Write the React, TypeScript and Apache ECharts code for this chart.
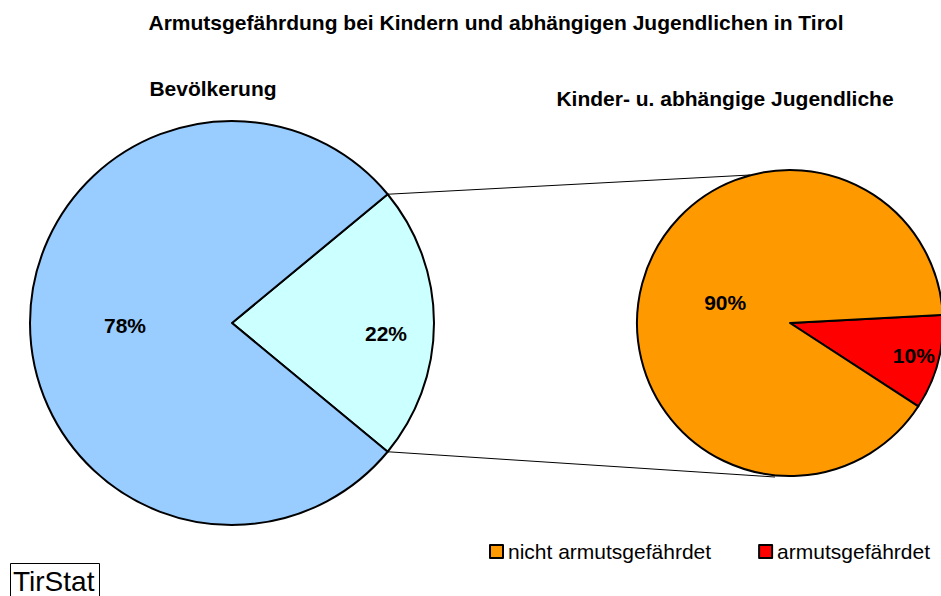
import React, { useEffect, useRef } from "react";
import * as echarts from "echarts";

const mainTitle = "Armutsgefährdung bei Kindern und abhängigen Jugendlichen in Tirol";
const leftTitle = "Bevölkerung";
const rightTitle = "Kinder- u. abhängige Jugendliche";

const leftNames = ["Kinder- u. abhängige Jugendliche", "übrige Bevölkerung"];
const leftValues = [22, 78];
const leftColors = ["#CCFFFF", "#99CCFF"];

const rightNames = ["armutsgefährdet", "nicht armutsgefährdet"];
const rightValues = [10, 90];
const rightColors = ["#FF0000", "#FF9900"];

const legendNames = ["nicht armutsgefährdet", "armutsgefährdet"];
const sourceText = "TirStat";

const FONT = "'Liberation Sans', Arial, sans-serif";

export default function App() {
  const ref = useRef<HTMLDivElement>(null);
  useEffect(() => {
    document.body.style.margin = "0";
    if (!ref.current) return;
    const chart = echarts.init(ref.current, null, { renderer: "svg" });

    const lc: [number, number] = [232, 323];
    const lr = 202;
    const rc: [number, number] = [790, 323];
    const rr = 153;

    const leftTotal = leftValues.reduce((a, b) => a + b, 0);
    const halfAngle = (leftValues[0] / leftTotal) * 180; // degrees
    const leftStart = halfAngle;

    const rad = (halfAngle * Math.PI) / 180;
    const p1 = [lc[0] + lr * Math.cos(rad), lc[1] - lr * Math.sin(rad)];
    const p2 = [lc[0] + lr * Math.cos(rad), lc[1] + lr * Math.sin(rad)];

    const labelStyle = {
      show: true,
      position: "inside",
      color: "#000",
      fontSize: 21,
      fontWeight: "bold",
      fontFamily: FONT,
      formatter: (p: any) => p.value + "%",
    };

    const leftOffsets = [[50, 10], [-3, 2]];
    const rightOffsets = [[47, 12], [12, 0]];

    chart.setOption({
      animation: false,
      backgroundColor: "#fff",
      legend: {
        data: legendNames,
        left: 484,
        top: 536,
        itemWidth: 13,
        itemHeight: 13,
        itemGap: 47,
        icon: "rect",
        textStyle: { fontSize: 21, fontFamily: FONT, color: "#000" },
        selectedMode: false,
      },
      series: [
        {
          type: "pie",
          center: lc,
          radius: lr,
          startAngle: leftStart,
          clockwise: true,
          silent: true,
          label: labelStyle,
          labelLine: { show: false },
          labelLayout: (p: any) => ({ dx: leftOffsets[p.dataIndex][0], dy: leftOffsets[p.dataIndex][1] }),
          itemStyle: { borderColor: "#000", borderWidth: 2 },
          data: leftNames.map((n, i) => ({ name: n, value: leftValues[i], itemStyle: { color: leftColors[i] } })),
        },
        {
          type: "pie",
          center: rc,
          radius: rr,
          startAngle: 3,
          clockwise: true,
          silent: true,
          label: labelStyle,
          labelLine: { show: false },
          labelLayout: (p: any) => ({ dx: rightOffsets[p.dataIndex][0], dy: rightOffsets[p.dataIndex][1] }),
          itemStyle: { borderColor: "#000", borderWidth: 2 },
          data: rightNames.map((n, i) => ({ name: n, value: rightValues[i], itemStyle: { color: rightColors[i] } })),
        },
      ],
      graphic: [
        {
          type: "line",
          shape: { x1: p1[0], y1: p1[1], x2: 750, y2: 175 },
          style: { stroke: "#000", lineWidth: 1 },
          z: 10,
        },
        {
          type: "line",
          shape: { x1: p2[0], y1: p2[1], x2: 775, y2: 477 },
          style: { stroke: "#000", lineWidth: 1 },
          z: 10,
        },
        {
          type: "text",
          x: 496,
          y: 22,
          style: { text: mainTitle, fill: "#000", font: `bold 21px ${FONT}`, textAlign: "center", textVerticalAlign: "middle" },
        },
        {
          type: "text",
          x: 213,
          y: 88,
          style: { text: leftTitle, fill: "#000", font: `bold 21px ${FONT}`, textAlign: "center", textVerticalAlign: "middle" },
        },
        {
          type: "text",
          x: 725,
          y: 98,
          style: { text: rightTitle, fill: "#000", font: `bold 21px ${FONT}`, textAlign: "center", textVerticalAlign: "middle" },
        },
        {
          type: "rect",
          shape: { x: 10.5, y: 563.5, width: 89, height: 34 },
          style: { fill: "#fff", stroke: "#000", lineWidth: 1 },
        },
        {
          type: "text",
          x: 13,
          y: 581,
          style: { text: sourceText, fill: "#000", font: `28px ${FONT}`, textVerticalAlign: "middle" },
        },
      ],
    });
    return () => chart.dispose();
  }, []);
  return <div ref={ref} style={{ width: 941, height: 596 }} />;
}
